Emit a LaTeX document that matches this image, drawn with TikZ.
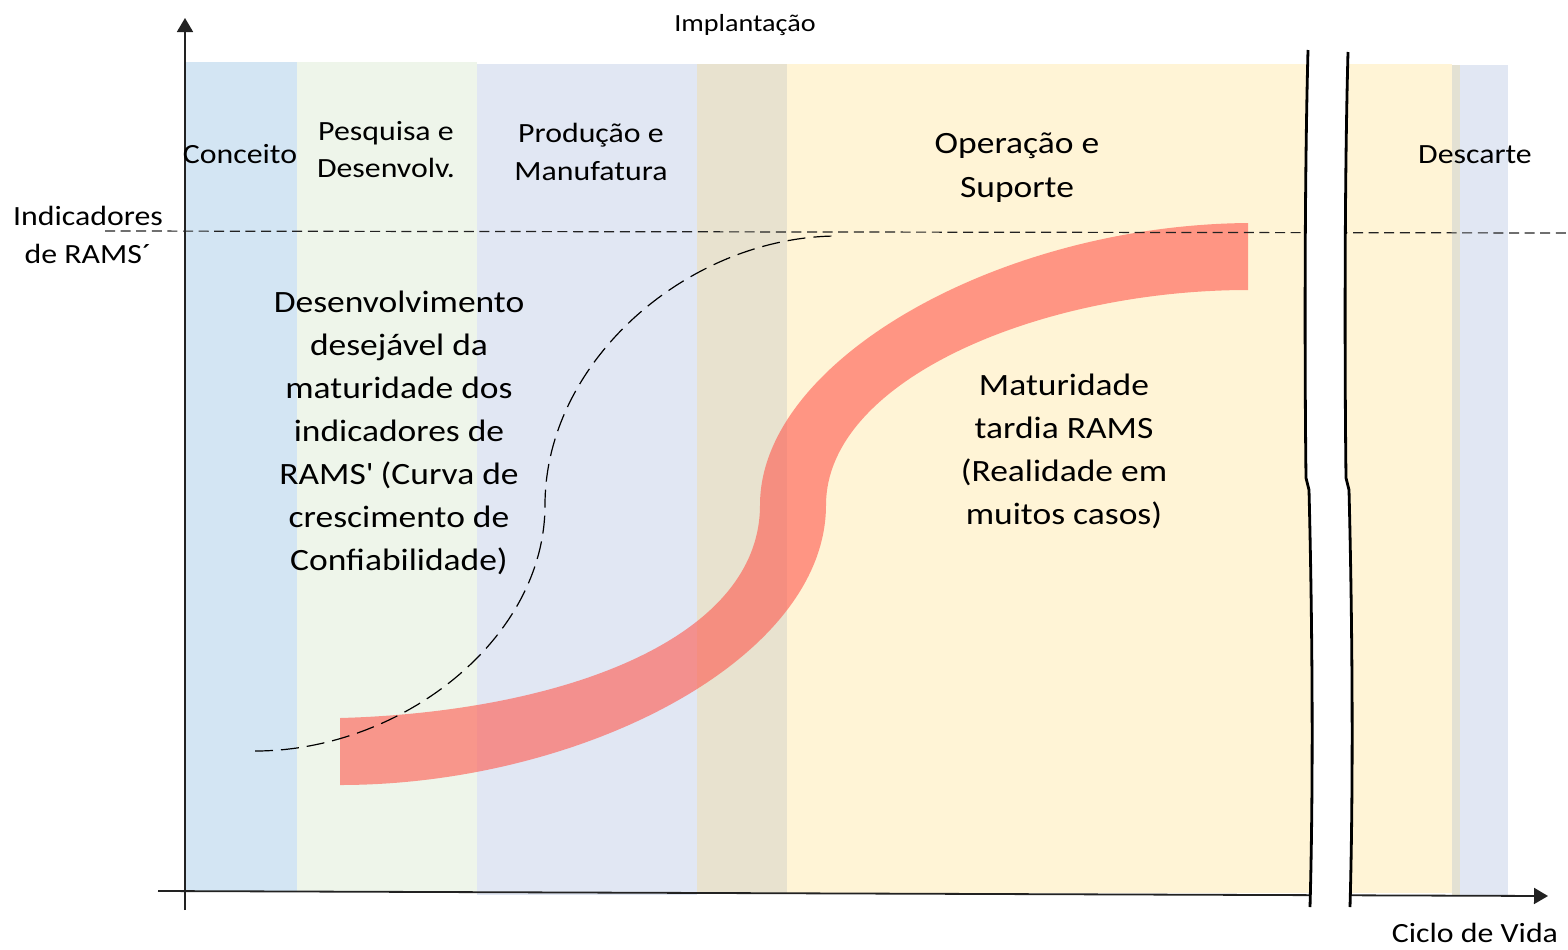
\documentclass[tikz,border=0pt]{standalone}
\usepackage{fontspec}
\setmainfont{Carlito}[FakeStretch=1.145]
\usetikzlibrary{arrows.meta}
\definecolor{bandConc}{HTML}{D3E5F3}
\definecolor{bandPesq}{HTML}{EEF5EA}
\definecolor{bandProd}{HTML}{E1E7F3}
\definecolor{bandOver}{HTML}{E8E2CF}
\definecolor{bandOper}{HTML}{FFF4D6}
\definecolor{bandDescOver}{HTML}{E3E1D3}
\definecolor{redband}{RGB}{255,87,76}
\definecolor{axisgray}{HTML}{222222}
\tikzset{
  band/.style={draw=none},
  axisline/.style={draw=axisgray, line width=0.9pt, -{Triangle[width=8pt,length=7pt]}},
  refline/.style={draw=axisgray, line width=0.6pt, dash pattern=on 5pt off 2.8pt},
  scurve/.style={draw=black, line width=0.6pt, dash pattern=on 9pt off 4pt},
  breakline/.style={draw=black, line width=1.4pt},
  lblsmall/.style={align=center, inner sep=0pt, font=\fontsize{13.9}{19}\selectfont},
  lblbig/.style={align=center, inner sep=0pt, font=\fontsize{15.5}{21.5}\selectfont},
  lbltiny/.style={align=center, inner sep=0pt, font=\fontsize{12.3}{15}\selectfont},
}
\begin{document}
\begin{tikzpicture}[x=0.5pt,y=-0.5pt]
\useasboundingbox (0,0) rectangle (1568,949);
% bands
\fill[bandConc] (185,62) rectangle (297,892);
\fill[bandPesq] (297,62) rectangle (477,892);
\fill[bandProd] (477,64) rectangle (697,895);
\fill[bandOver] (697,64) rectangle (787,893);
\fill[bandOper] (787,64) rectangle (1452,893);
\fill[bandDescOver] (1452,65) rectangle (1460,895);
\fill[bandProd] (1460,65) rectangle (1508,895);
% red band (late maturity)
\fill[redband, opacity=0.6]
  (340,718) .. controls (560,712) and (760,640) .. (760,505)
  .. controls (760,360) and (1000,225) .. (1248,223)
  -- (1248,290)
  .. controls (1040,290) and (826,380) .. (826,505)
  .. controls (826,660) and (580,785) .. (340,785) -- cycle;
% reference dashed line
\coordinate (refL) at (105,231);
\coordinate (refR) at (1568,233);
\draw[refline] (refL) -- (refR);
% desired growth curve
\coordinate (sA) at (255,751);
\coordinate (sM) at (545,505);
\coordinate (sB) at (838,236);
\draw[scurve] (sA) .. controls (400,751) and (545,640) .. (sM)
  .. controls (545,360) and (690,236) .. (sB);
% axes
\coordinate (yS) at (185,910);
\coordinate (yE) at (185,18);
\coordinate (xS) at (158,891);
\coordinate (xE) at (1548,896);
\draw[axisline] (yS) -- (yE);
\draw[axisline] (xS) -- (xE);
% break
\fill[white] (1308,50) .. controls (1304,200) and (1305,400) .. (1306,478) -- (1309,490)
  .. controls (1313,650) and (1313,800) .. (1310,907)
  -- (1350,907) .. controls (1353,800) and (1353,650) .. (1349,490) -- (1346,478)
  .. controls (1345,400) and (1344,200) .. (1348,52) -- cycle;
\draw[breakline] (1308,50) .. controls (1304,200) and (1305,400) .. (1306,478) -- (1309,490)
  .. controls (1313,650) and (1313,800) .. (1310,907);
\draw[breakline] (1348,52) .. controls (1344,200) and (1345,400) .. (1346,478) -- (1349,490)
  .. controls (1353,650) and (1353,800) .. (1350,907);
% labels
\node[lbltiny] (impl) at (745,25) {Implantação};
\node[lblsmall] (conc) at (240,154) {Conceito};
\node[lblsmall, font=\fontsize{13.9}{18.5}\selectfont] (pesq) at (386,150) {Pesquisa e\\Desenvolv.};
\node[lblsmall] (prod) at (591,152) {Produção e\\Manufatura};
\node[lblbig, font=\fontsize{15.5}{22}\selectfont] (oper) at (1017,168) {Operação e\\Suporte};
\node[lblsmall] (desc) at (1475,155) {Descarte};
\node[lblsmall] (ind) at (88,235) {Indicadores\\de RAMS´};
\node[lblbig] (desej) at (399,433) {Desenvolvimento\\desejável da\\maturidade dos\\indicadores de\\RAMS\textquotesingle{} (Curva de\\crescimento de\\Confiabilidade)};
\node[lblbig] (tard) at (1064,451) {Maturidade\\tardia RAMS\\(Realidade em\\muitos casos)};
\node[lblsmall] (ciclo) at (1475,933) {Ciclo de Vida};
\end{tikzpicture}
\end{document}
